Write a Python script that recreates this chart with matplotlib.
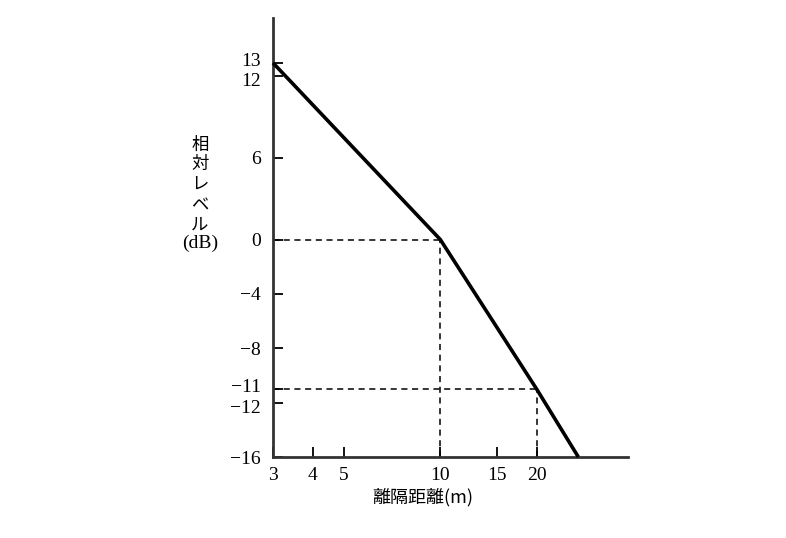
import matplotlib
matplotlib.use("Agg")
import matplotlib.pyplot as plt
import matplotlib.transforms as mtransforms
from matplotlib.ticker import FixedLocator, NullLocator

# data
distance_m = [3, 10, 20, 27]
level_db = [13, 0, -11, -16]
x_ticks = [3, 4, 5, 10, 15, 20]
x_ticklabels = ["3", "4", "5", "10", "15", "20"]
y_ticks = [13, 12, 6, 0, -4, -8, -11, -12, -16]
y_ticklabels = ["13", "12", "6", "0", "\u22124", "\u22128", "\u221211", "\u221212", "\u221216"]
ref_x = [10, 20]
ref_y = [0, -11]
ylabel_chars = ["相", "対", "レ", "ベ", "ル", "(dB)"]
xlabel = "離隔距離(m)"

serif = ["Liberation Serif", "DejaVu Serif"]
jp = ["Noto Sans CJK JP", "DejaVu Sans"]

fig = plt.figure(figsize=(7.86, 5.38), dpi=100)
ax = fig.add_axes([273/786, (538-457)/538, (628-273)/786, (457-18)/538])
ax.set_xscale("log")
ax.set_xlim(3, 38.6)
ax.set_ylim(-16, 16.3)

ax.plot(distance_m, level_db, color="black", lw=2.6, solid_capstyle="butt", clip_on=False, zorder=3)

# dashed reference lines
for xv, yv in zip(ref_x, ref_y):
    ax.plot([3, xv], [yv, yv], color="black", lw=1.1, ls=(0, (4, 3)), zorder=2)
    ax.plot([xv, xv], [-16, yv], color="black", lw=1.1, ls=(0, (4, 3)), zorder=2)

for s in ["top", "right"]:
    ax.spines[s].set_visible(False)
for s in ["left", "bottom"]:
    ax.spines[s].set_linewidth(2.0)
    ax.spines[s].set_color("#333333")

ax.xaxis.set_major_locator(FixedLocator(x_ticks))
ax.xaxis.set_minor_locator(NullLocator())
ax.set_xticklabels(x_ticklabels)
ax.yaxis.set_major_locator(FixedLocator(y_ticks))
ax.set_yticklabels(y_ticklabels)
ax.tick_params(direction="in", length=7, width=1.3, colors="black", labelsize=14)
ax.tick_params(axis="x", pad=7)
ax.tick_params(axis="y", pad=9)
for lab in ax.get_xticklabels() + ax.get_yticklabels():
    lab.set_family(serif)

# nudge crowded y labels apart
nudge = {"13": 2.5, "12": -2.5, "\u221211": 2.5, "\u221212": -2.5}
fig.canvas.draw()
for lab in ax.get_yticklabels():
    dy = nudge.get(lab.get_text(), 0)
    if dy:
        lab.set_transform(lab.get_transform() +
                          mtransforms.ScaledTranslation(0, dy / 72, fig.dpi_scale_trans))

# y label (vertically stacked)
ys = [145, 164, 185, 205, 225, 243]
for ch, yp in zip(ylabel_chars, ys):
    fam = serif if ch.startswith("(") else jp
    fs = 14 if ch.startswith("(") else 12.5
    fig.text(200/786, 1 - yp/538, ch, ha="center", va="center", fontsize=fs, family=fam)

fig.text(423/786, 1 - 497/538, xlabel, ha="center", va="center", fontsize=13, family=jp)

fig.savefig("out.png", dpi=100)
